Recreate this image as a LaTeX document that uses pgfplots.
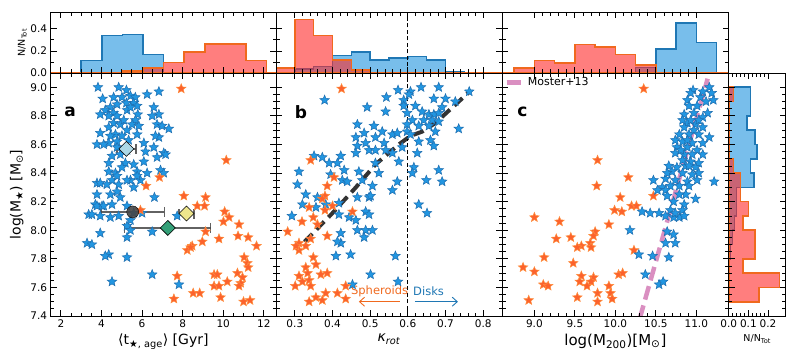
\documentclass[border=0pt]{standalone}
\usepackage{fontspec}
\setmainfont{DejaVu Sans}
\usepackage{pgfplots}
\pgfplotsset{compat=1.18}
\usetikzlibrary{arrows.meta}

\definecolor{hblue}{RGB}{30,147,222}
\definecolor{hblueE}{RGB}{31,119,180}
\definecolor{hred}{RGB}{255,40,40}
\definecolor{hredE}{RGB}{240,105,30}
\definecolor{sblue}{RGB}{34,150,225}
\definecolor{sblueE}{RGB}{31,110,175}
\definecolor{sorange}{RGB}{252,98,45}
\definecolor{sorangeE}{RGB}{255,140,60}
\definecolor{mpink}{RGB}{218,143,193}
\definecolor{dlblue}{RGB}{173,216,230}
\definecolor{dyellow}{RGB}{238,230,140}
\definecolor{dgreen}{RGB}{52,160,120}
\definecolor{ebar}{RGB}{70,70,70}

% filled five-pointed star, like matplotlib's '*'
\pgfdeclareplotmark{fstar}{%
  \pgfpathmoveto{\pgfpointpolar{90}{\pgfplotmarksize}}%
  \pgfpathlineto{\pgfpointpolar{126}{0.44\pgfplotmarksize}}%
  \pgfpathlineto{\pgfpointpolar{162}{\pgfplotmarksize}}%
  \pgfpathlineto{\pgfpointpolar{198}{0.44\pgfplotmarksize}}%
  \pgfpathlineto{\pgfpointpolar{234}{\pgfplotmarksize}}%
  \pgfpathlineto{\pgfpointpolar{270}{0.44\pgfplotmarksize}}%
  \pgfpathlineto{\pgfpointpolar{306}{\pgfplotmarksize}}%
  \pgfpathlineto{\pgfpointpolar{342}{0.44\pgfplotmarksize}}%
  \pgfpathlineto{\pgfpointpolar{18}{\pgfplotmarksize}}%
  \pgfpathlineto{\pgfpointpolar{54}{0.44\pgfplotmarksize}}%
  \pgfpathclose
  \pgfusepathqfillstroke
}

\newcommand\tl{\fontsize{10.5}{12}\selectfont}
\newcommand\lb{\fontsize{14}{16}\selectfont}
\newcommand\sm{\fontsize{9.5}{11}\selectfont}

\tikzset{plab/.style={font=\fontsize{17}{20}\selectfont\bfseries}}

\pgfplotsset{
  base/.style={scale only axis, axis on top, anchor=south west,
    tick align=inside, xtick pos=both, ytick pos=both,
    major tick length=6pt, minor tick length=3.5pt,
    tick style={black, line width=0.8pt},
    axis line style={line width=0.9pt},
    ticklabel style={font=\tl},
    /pgf/number format/assume math mode=true},
  main/.style={base, height=243pt, ymin=7.4, ymax=9.1,
    ytick={7.4,7.6,...,9.0}, minor y tick num=3,
    yticklabel style={/pgf/number format/.cd, fixed, fixed zerofill, precision=1}},
  tophist/.style={base, height=60.7pt, ymin=0, ymax=0.55,
    ytick={0,0.2,0.4}, minor y tick num=1, xticklabels={},
    yticklabel style={/pgf/number format/.cd, fixed, fixed zerofill, precision=1}},
  bstar/.style={only marks, mark=fstar, mark size=5pt,
    mark options={fill=sblue, draw=sblueE, line width=0.5pt}},
  ostar/.style={only marks, mark=fstar, mark size=5pt,
    mark options={fill=sorange, draw=sorangeE, line width=0.5pt}},
  hb/.style={const plot, fill=hblue, fill opacity=0.6, draw=hblueE, line width=1.6pt},
  hr/.style={const plot, fill=hred, fill opacity=0.6, draw=hredE, line width=1.6pt},
  hbh/.style={fill=hblue, fill opacity=0.6, draw=hblueE, line width=1.6pt},
  hrh/.style={fill=hred, fill opacity=0.6, draw=hredE, line width=1.6pt},
  xerr/.style={error bars/.cd, x dir=both, x explicit, error mark=|,
    error bar style={ebar, opacity=0.85, line width=1.8pt},
    error mark options={ebar, opacity=0.85, line width=1.3pt, mark size=5pt}},
}

\begin{document}
\begin{tikzpicture}
\useasboundingbox (0,0) rectangle (797pt,362pt);

% ---------- panel a ----------
\begin{axis}[main, at={(50.7pt,46pt)}, width=225.3pt,
  xmin=1.5, xmax=12.6, xtick={2,4,...,12}, minor x tick num=3,
  xlabel={⟨t\textsubscript{★, age}⟩ [Gyr]}, xlabel style={font=\lb},
  ylabel={log(M\textsubscript{★}) [M\textsubscript{⊙}]}, ylabel style={font=\lb}]
\addplot[bstar] coordinates {
(3.83,9.00) (4.85,9.00) (5.23,8.98) (6.25,8.95) (6.83,8.97) (4.06,8.92) (4.60,8.93)
(5.01,8.93) (5.43,8.94) (5.67,8.93) (5.59,8.89) (5.23,8.89) (4.77,8.88) (4.44,8.86)
(4.19,8.84) (3.94,8.81) (4.60,8.82) (5.26,8.84) (5.79,8.81) (6.58,8.86) (6.83,8.81)
(6.50,8.80) (5.67,8.77) (5.51,8.74) (4.60,8.75) (4.93,8.74) (4.36,8.72) (5.26,8.70)
(3.94,8.68) (4.69,8.67) (4.44,8.66) (5.76,8.67) (6.74,8.74) (6.99,8.73) (7.32,8.71)
(6.83,8.65) (5.34,8.63) (4.77,8.62) (4.36,8.61) (3.78,8.60) (4.11,8.60) (6.09,8.61)
(6.58,8.58) (7.07,8.54) (4.93,8.53) (4.52,8.52) (6.09,8.48) (6.74,8.51) (5.18,8.47)
(5.59,8.46) (5.01,8.44) (6.91,8.42) (6.25,8.40) (4.36,8.41) (4.69,8.40) (5.76,8.41)
(7.07,8.40) (5.92,8.35) (5.43,8.35) (4.52,8.35) (3.78,8.33) (4.27,8.32) (4.85,8.32)
(5.59,8.30) (4.77,8.27) (3.78,8.25) (4.44,8.25) (4.93,8.23) (6.61,8.23) (3.70,8.18)
(4.03,8.17) (4.52,8.18) (5.26,8.17) (3.37,8.11) (3.94,8.10) (4.44,8.09) (4.85,8.10)
(5.43,8.07) (5.26,8.03) (6.00,8.12) (7.73,8.10) (3.94,7.98) (6.50,7.99) (5.43,8.00)
(5.26,7.95) (3.29,7.91) (3.53,7.90) (4.36,7.83) (4.19,7.82) (5.26,7.81) (6.50,7.69)
(7.82,7.62) (4.52,7.64) (3.78,8.17) (3.53,8.11) (5.59,8.12) (4.77,8.38) (5.26,8.35)
(4.36,8.47) (5.84,8.73) (5.10,8.77) (4.77,8.80) (5.76,8.87) (5.43,8.86) (4.36,8.80)
(5.01,8.66) (5.26,8.56) (4.77,8.58) (6.17,8.55) (6.66,8.66) (7.16,8.53) (3.94,8.33)
(4.11,8.17) (5.76,8.38)};
\addplot[ostar] coordinates {
(7.93,8.99) (10.15,8.49) (6.86,8.37) (6.20,8.31) (8.06,8.24) (9.13,8.23) (8.72,8.17)
(9.08,8.17) (10.07,8.13) (10.29,8.09) (10.01,8.06) (10.78,8.04) (5.92,8.14) (9.13,7.99)
(9.79,7.94) (10.73,7.96) (11.23,7.95) (11.64,7.89) (8.97,7.92) (8.47,7.89) (8.23,7.86)
(8.39,7.88) (11.03,7.81) (11.19,7.77) (11.23,7.74) (7.73,7.68) (9.55,7.69) (9.71,7.69)
(10.70,7.70) (10.20,7.64) (10.95,7.67) (10.86,7.63) (9.55,7.61) (9.79,7.61) (10.78,7.61)
(8.52,7.56) (8.84,7.56) (7.57,7.52) (9.87,7.53) (11.00,7.50) (11.32,7.51)};
% medians with spread
\addplot[only marks, mark=square*, mark size=5.3pt,
  mark options={rotate=45, fill=dlblue, draw=black, line width=0.6pt}, xerr]
  coordinates {(5.23,8.569) +- (0.47,0)};
\addplot[only marks, mark=*, mark size=6pt,
  mark options={fill=ebar, draw=black, fill opacity=0.9}, xerr]
  coordinates {(5.54,8.128) +- (1.56,0)};
\addplot[only marks, mark=square*, mark size=5.3pt,
  mark options={rotate=45, fill=dyellow, draw=black, line width=0.6pt}, xerr]
  coordinates {(8.19,8.117) +- (0.37,0)};
\addplot[only marks, mark=square*, mark size=5.3pt,
  mark options={rotate=45, fill=dgreen, draw=black, line width=0.6pt}, xerr]
  coordinates {(7.27,8.016) +- (2.12,0)};
\node[plab] at (rel axis cs:0.086,0.84) {a};
\end{axis}

% ---------- panel b ----------
\begin{axis}[main, at={(276pt,46pt)}, width=226pt, yticklabels={},
  xmin=0.25, xmax=0.85, xtick={0.3,0.4,...,0.8}, minor x tick num=4,
  xticklabel style={/pgf/number format/.cd, fixed, fixed zerofill, precision=1},
  xlabel={\textit{κ}\textsubscript{\textit{rot}}}, xlabel style={font=\lb}]
\addplot[bstar] coordinates {
(0.574,8.98) (0.607,8.97) (0.635,9.00) (0.682,9.00) (0.379,8.91) (0.543,8.93) (0.589,8.91)
(0.603,8.95) (0.669,8.92) (0.700,8.92) (0.726,8.90) (0.763,8.97) (0.492,8.86) (0.541,8.83)
(0.589,8.87) (0.620,8.87) (0.598,8.82) (0.638,8.83) (0.656,8.81) (0.669,8.81) (0.682,8.82)
(0.691,8.86) (0.612,8.77) (0.642,8.77) (0.665,8.77) (0.598,8.74) (0.629,8.73) (0.656,8.73)
(0.682,8.76) (0.673,8.69) (0.735,8.71) (0.466,8.74) (0.484,8.68) (0.510,8.73) (0.532,8.69)
(0.462,8.65) (0.488,8.61) (0.514,8.65) (0.537,8.61) (0.559,8.67) (0.572,8.68) (0.598,8.69)
(0.607,8.67) (0.629,8.62) (0.660,8.63) (0.669,8.59) (0.585,8.58) (0.466,8.59) (0.462,8.54)
(0.497,8.56) (0.514,8.56) (0.559,8.54) (0.541,8.56) (0.625,8.54) (0.422,8.52) (0.351,8.52)
(0.373,8.51) (0.391,8.47) (0.413,8.47) (0.431,8.42) (0.470,8.41) (0.514,8.47) (0.523,8.40)
(0.576,8.48) (0.616,8.44) (0.612,8.40) (0.682,8.42) (0.691,8.34) (0.649,8.35) (0.311,8.41)
(0.307,8.32) (0.395,8.39) (0.426,8.35) (0.439,8.34) (0.479,8.35) (0.506,8.31) (0.572,8.34)
(0.559,8.28) (0.329,8.25) (0.360,8.23) (0.466,8.23) (0.497,8.23) (0.501,8.24) (0.320,8.18)
(0.356,8.16) (0.382,8.18) (0.417,8.19) (0.292,8.10) (0.417,8.11) (0.444,8.09) (0.462,8.07)
(0.488,8.13) (0.497,8.11) (0.629,8.18) (0.651,8.12) (0.466,8.00) (0.488,8.00) (0.506,8.00)
(0.484,7.95) (0.422,7.98) (0.422,7.91) (0.413,7.92) (0.448,7.83) (0.409,7.82) (0.567,7.82)
(0.501,7.69) (0.453,7.62) (0.574,7.64)};
\addplot[ostar] coordinates {
(0.424,8.99) (0.342,8.49) (0.404,8.37) (0.386,8.31) (0.380,8.24) (0.373,8.22) (0.400,8.17)
(0.338,8.16) (0.380,8.14) (0.453,8.13) (0.349,8.09) (0.319,8.06) (0.360,8.04) (0.281,7.99)
(0.342,7.94) (0.311,7.91) (0.329,7.89) (0.311,7.86) (0.386,7.96) (0.349,7.81) (0.356,7.76)
(0.329,7.74) (0.334,7.70) (0.311,7.68) (0.338,7.65) (0.369,7.69) (0.386,7.70) (0.342,7.61)
(0.301,7.61) (0.382,7.56) (0.413,7.56) (0.435,7.61) (0.356,7.53) (0.338,7.50) (0.373,7.51)
(0.435,7.52) (0.320,7.64) (0.303,7.89)};
% running median
\addplot[black, opacity=0.8, line width=4pt, dash pattern=on 11pt off 6pt] coordinates {
(0.326,7.92) (0.400,8.12) (0.462,8.30) (0.514,8.46) (0.576,8.60) (0.607,8.66) (0.638,8.69)
(0.673,8.75) (0.764,8.97)};
\addplot[black, line width=1.1pt, dash pattern=on 4pt off 2.5pt] coordinates {(0.6,7.4) (0.6,9.1)};
\node[text=hredE, font=\fontsize{11.5}{13}\selectfont] at (axis cs:0.525,7.575) {Spheroids};
\node[text=hblueE, font=\fontsize{11.5}{13}\selectfont] at (axis cs:0.655,7.575) {Disks};
\draw[hredE, line width=0.9pt, -{Straight Barb[length=5pt,width=9pt]}] (axis cs:0.578,7.50) -- (axis cs:0.470,7.50);
\draw[hblueE, line width=0.9pt, -{Straight Barb[length=5pt,width=9pt]}] (axis cs:0.619,7.50) -- (axis cs:0.733,7.50);
\node[plab] at (rel axis cs:0.11,0.84) {b};
\end{axis}

% ---------- panel c ----------
\begin{axis}[main, at={(502pt,46pt)}, width=226.7pt, yticklabels={},
  xmin=8.6, xmax=11.4, xtick={9.0,9.5,...,11.0}, minor x tick num=4,
  xticklabel style={/pgf/number format/.cd, fixed, fixed zerofill, precision=1},
  xlabel={log(M\textsubscript{200})[M\textsubscript{⊙}]}, xlabel style={font=\fontsize{15}{17}\selectfont},
  legend style={at={(0.005,0.995)}, anchor=north west, draw=none, fill=none,
    font=\fontsize{11}{13}\selectfont, inner sep=1pt},
  legend cell align=left]
\addplot[ostar, forget plot] coordinates {
(10.35,8.99) (9.78,8.49) (10.16,8.37) (9.77,8.31) (10.06,8.23) (10.47,8.24) (10.20,8.17)
(10.26,8.17) (9.99,8.14) (10.08,8.13) (9.00,8.09) (9.31,8.06) (9.92,8.04) (9.75,7.99)
(9.73,7.96) (9.27,7.94) (9.45,7.95) (9.69,7.91) (9.58,7.89) (9.53,7.88) (9.70,7.88)
(10.23,7.86) (9.12,7.81) (9.48,7.77) (8.86,7.74) (9.00,7.71) (9.58,7.68) (9.56,7.64)
(9.73,7.67) (9.70,7.64) (9.65,7.61) (10.04,7.69) (10.09,7.70) (9.11,7.62) (9.17,7.61)
(9.92,7.61) (9.94,7.56) (9.78,7.56) (9.96,7.52) (9.78,7.50) (9.53,7.53) (8.93,7.51)};
\addplot[bstar, forget plot] coordinates {
(10.96,8.98) (11.16,9.00) (11.19,8.96) (11.05,8.93) (10.89,8.91) (11.12,8.90) (11.21,8.91)
(10.91,8.87) (11.01,8.87) (10.85,8.81) (10.97,8.82) (11.14,8.82) (11.08,8.79) (10.89,8.75)
(10.99,8.74) (10.85,8.72) (10.97,8.70) (11.08,8.72) (10.79,8.67) (10.91,8.67) (11.03,8.67)
(11.16,8.65) (10.83,8.62) (10.95,8.61) (11.08,8.61) (10.76,8.58) (10.89,8.58) (11.01,8.56)
(10.74,8.54) (10.85,8.53) (10.95,8.53) (11.08,8.53) (10.83,8.49) (10.93,8.48) (11.03,8.47)
(10.66,8.45) (10.76,8.44) (10.87,8.45) (10.99,8.44) (10.70,8.41) (10.83,8.40) (10.95,8.39)
(11.03,8.40) (11.22,8.34) (10.47,8.35) (10.62,8.36) (10.74,8.35) (10.89,8.34) (11.01,8.35)
(10.58,8.30) (10.68,8.31) (10.79,8.31) (10.91,8.31) (10.52,8.28) (10.62,8.28) (10.87,8.25)
(10.99,8.22) (10.64,8.24) (10.72,8.20) (10.85,8.18) (10.33,8.13) (10.43,8.12) (10.54,8.12)
(10.68,8.14) (10.83,8.14) (10.62,8.10) (10.72,8.09) (10.79,8.09) (10.18,8.00) (10.64,7.99)
(10.72,7.97) (10.62,7.91) (10.74,7.91) (10.29,7.83) (10.46,7.82) (10.66,7.81) (10.37,7.69)
(10.54,7.62) (10.59,7.64) (10.93,8.96) (11.08,8.97) (10.83,8.77) (11.03,8.77) (10.93,8.77)
(10.74,8.63) (10.89,8.63) (10.81,8.56) (10.91,8.45) (10.64,8.40) (10.79,8.25) (10.74,8.12)
(10.85,8.10)};
\addplot[mpink, line width=4.5pt, dash pattern=on 14pt off 6pt,
  legend image code/.code={\draw[mpink, line width=4.5pt] (0pt,0pt) -- (17pt,0pt);}]
  coordinates {(10.30,7.38) (10.50,7.78) (10.70,8.18) (10.90,8.58) (11.14,9.06)};
\addlegendentry{Moster+13}
\node[plab] at (rel axis cs:0.09,0.84) {c};
\end{axis}

% ---------- right histogram ----------
\begin{axis}[base, at={(728.7pt,46pt)}, width=57pt, height=243pt,
  ymin=7.4, ymax=9.1, ytick={7.4,7.6,...,9.0}, minor y tick num=3, yticklabels={},
  xmin=0, xmax=0.29, xtick={0,0.1,0.2}, minor x tick num=4,
  xticklabel style={/pgf/number format/.cd, fixed, fixed zerofill, precision=1},
  xlabel={N/N\textsubscript{Tot}}, xlabel style={font=\sm}]
\addplot[hbh] coordinates {
(0,9.0) (0.11,9.0) (0.11,8.8) (0.093,8.8) (0.093,8.7) (0.135,8.7) (0.135,8.6) (0.143,8.6)
(0.143,8.5) (0.11,8.5) (0.11,8.4) (0.13,8.4) (0.13,8.3) (0.04,8.3) (0.04,8.1) (0.03,8.1)
(0.03,8.0) (0.02,8.0) (0.02,7.9) (0.01,7.9) (0.01,7.8) (0,7.8)} -- cycle;
\addplot[hrh] coordinates {
(0,9.0) (0.024,9.0) (0.024,8.9) (0,8.9) (0,8.5) (0.024,8.5) (0.024,8.4) (0.059,8.4)
(0.059,8.2) (0.10,8.2) (0.10,8.1) (0.074,8.1) (0.074,8.0) (0.133,8.0) (0.133,7.8)
(0.074,7.8) (0.074,7.7) (0.259,7.7) (0.259,7.6) (0.155,7.6) (0.155,7.5) (0,7.5)} -- cycle;
\end{axis}

% ---------- top histograms ----------
\begin{axis}[tophist, at={(50.7pt,289pt)}, width=225.3pt,
  xmin=1.5, xmax=12.6, xtick={2,4,...,12}, minor x tick num=3,
  ylabel={N/N\textsubscript{Tot}}, ylabel style={font=\sm, yshift=-3pt}]
\addplot[hb] coordinates {(3.00,0) (3.00,0.114) (4.02,0.338) (5.03,0.348) (6.05,0.169) (7.06,0.169) (7.06,0)};
\addplot[hr] coordinates {(5.03,0) (5.03,0.02) (6.05,0.043) (7.06,0.095) (8.08,0.19) (9.10,0.265) (10.11,0.265) (11.13,0.114) (12.14,0.114) (12.14,0)};
\addplot[hredE, line width=1.6pt] coordinates {(1.5,0) (12.6,0)};
\end{axis}

\begin{axis}[tophist, at={(276pt,289pt)}, width=226pt, yticklabels={},
  xmin=0.25, xmax=0.85, xtick={0.3,0.4,...,0.8}, minor x tick num=4]
\addplot[hb] coordinates {(0.30,0) (0.30,0.037) (0.35,0.058) (0.40,0.16) (0.45,0.188) (0.50,0.12) (0.55,0.138) (0.60,0.151) (0.65,0.12) (0.70,0.015) (0.75,0.006) (0.80,0.006) (0.80,0)};
\addplot[hr] coordinates {(0.25,0) (0.25,0.043) (0.30,0.483) (0.35,0.338) (0.40,0.12) (0.45,0.025) (0.50,0.025) (0.50,0)};
\addplot[hredE, line width=1.6pt] coordinates {(0.25,0) (0.85,0)};
\addplot[black, line width=1.1pt, dash pattern=on 4pt off 2.5pt] coordinates {(0.6,0) (0.6,0.55)};
\end{axis}

\begin{axis}[tophist, at={(502pt,289pt)}, width=226.7pt, yticklabels={},
  xmin=8.6, xmax=11.4, xtick={9.0,9.5,...,11.0}, minor x tick num=4]
\addplot[hb] coordinates {(10.25,0) (10.25,0.05) (10.50,0.215) (10.75,0.452) (11.00,0.277) (11.25,0.277) (11.25,0)};
\addplot[hr] coordinates {(8.75,0) (8.75,0.043) (9.00,0.114) (9.25,0.092) (9.50,0.26) (9.75,0.237) (10.00,0.169) (10.25,0.074) (10.50,0.074) (10.50,0)};
\addplot[hredE, line width=1.6pt] coordinates {(8.6,0) (11.4,0)};
\end{axis}
\end{tikzpicture}
\end{document}
